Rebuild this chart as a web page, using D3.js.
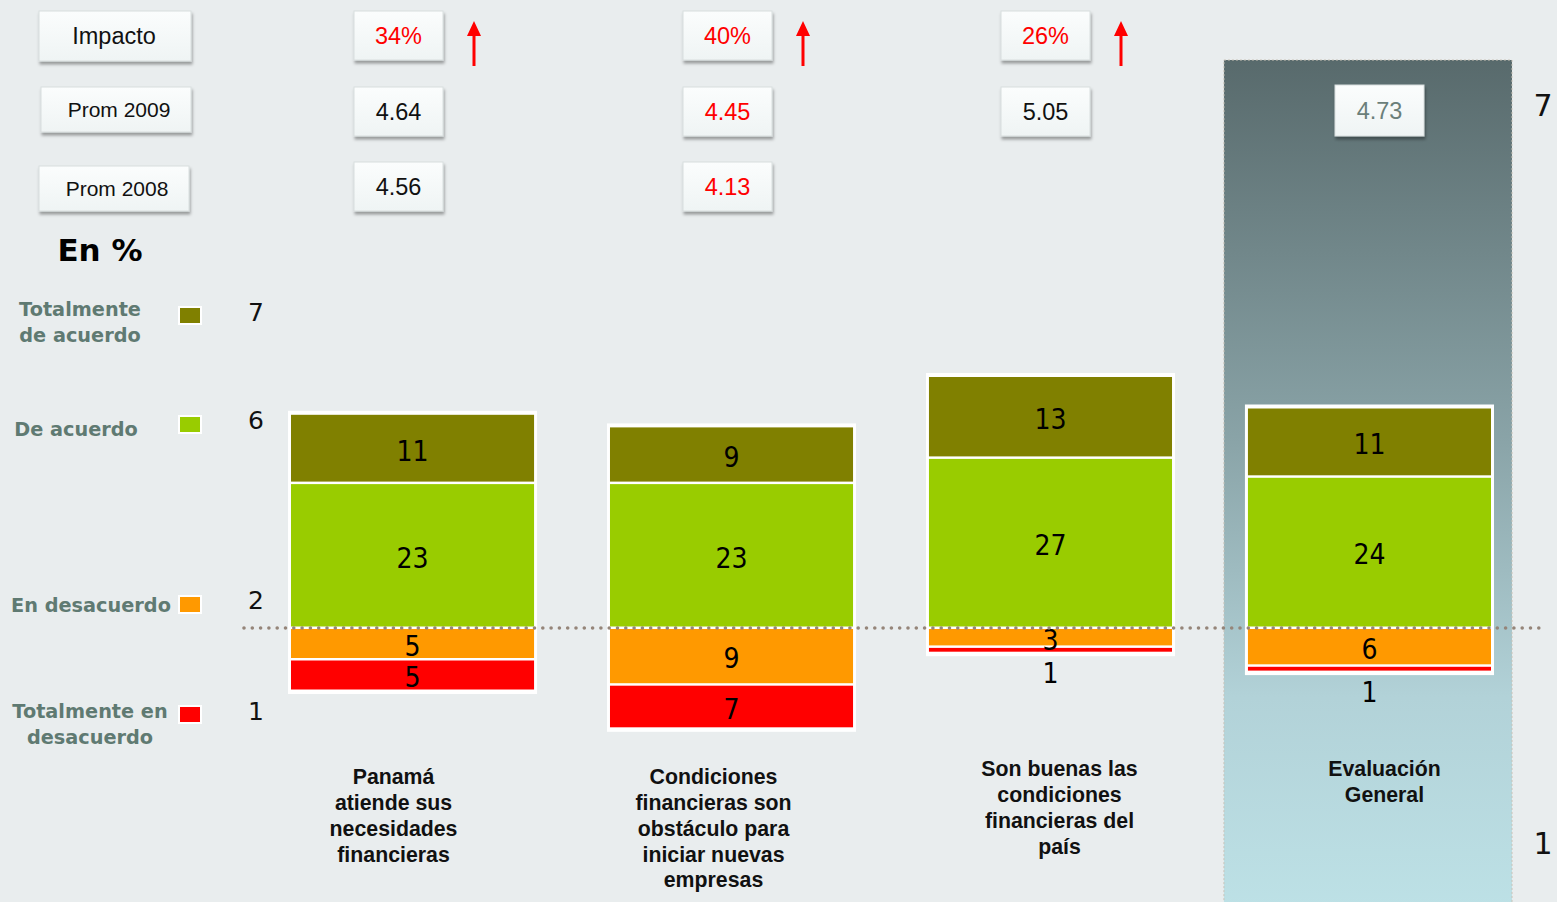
<!DOCTYPE html>
<html>
<head>
<meta charset="utf-8">
<script src="https://cdn.jsdelivr.net/npm/d3@7/dist/d3.min.js"></script>
<style>
  html, body { margin: 0; padding: 0; background: #e9edee; }
  svg { display: block; }
</style>
</head>
<body>
<svg id="chart" width="1557" height="902"></svg>
<script>
// ---------- DATA ----------
const categories = [
  "Panamá atiende sus necesidades financieras",
  "Condiciones financieras son obstáculo para iniciar nuevas empresas",
  "Son buenas las condiciones financieras del país",
  "Evaluación General"
];
const categoryLines = [
  ["Panamá", "atiende sus", "necesidades", "financieras"],
  ["Condiciones", "financieras son", "obstáculo para", "iniciar nuevas", "empresas"],
  ["Son buenas las", "condiciones", "financieras del", "país"],
  ["Evaluación", "General"]
];
const totalmenteDeAcuerdo = [11, 9, 13, 11];
const deAcuerdo = [23, 23, 27, 24];
const enDesacuerdo = [5, 9, 3, 6];
const totalmenteEnDesacuerdo = [5, 7, 1, 1];

const impacto = ["34%", "40%", "26%", null];
const prom2009 = ["4.64", "4.45", "5.05", "4.73"];
const prom2008 = ["4.56", "4.13", null, null];
const impactoColor = ["red", "red", "red", null];
const prom2009Color = ["black", "red", "black", "gray"];
const prom2008Color = ["black", "red", null, null];

const legendLabels = [
  ["Totalmente", "de acuerdo"],
  ["De acuerdo"],
  ["En desacuerdo"],
  ["Totalmente en", "desacuerdo"]
];
const legendScores = ["7", "6", "2", "1"];
const rowLabels = ["Impacto", "Prom 2009", "Prom 2008"];

// ---------- STYLE ----------
const COL = {
  tda: "#808000", da: "#99cc00", ed: "#ff9900", ted: "#ff0000",
  red: "#ff0000", black: "#111111", gray: "#6b7f7a", legend: "#5f7a72"
};
const textColor = {red: COL.red, black: COL.black, gray: COL.gray};

const svg = d3.select("#chart");
const defs = svg.append("defs");

const grad = defs.append("linearGradient").attr("id", "panelGrad")
  .attr("x1", 0).attr("y1", 0).attr("x2", 0).attr("y2", 1);
grad.append("stop").attr("offset", "0%").attr("stop-color", "#586a6c");
grad.append("stop").attr("offset", "45%").attr("stop-color", "#8aa4a8");
grad.append("stop").attr("offset", "75%").attr("stop-color", "#b2d2d8");
grad.append("stop").attr("offset", "100%").attr("stop-color", "#bde1e6");

const boxGrad = defs.append("linearGradient").attr("id", "boxGrad")
  .attr("x1", 0).attr("y1", 0).attr("x2", 0).attr("y2", 1);
boxGrad.append("stop").attr("offset", "0%").attr("stop-color", "#fbfdfd");
boxGrad.append("stop").attr("offset", "100%").attr("stop-color", "#eff4f4");

const shadow = defs.append("filter").attr("id", "shadow")
  .attr("x", "-20%").attr("y", "-20%").attr("width", "150%").attr("height", "160%");
shadow.append("feDropShadow").attr("dx", 1).attr("dy", 3).attr("stdDeviation", 1.8)
  .attr("flood-color", "#000").attr("flood-opacity", 0.35);

// ---------- SCALES ----------
const x = d3.scaleBand().domain(categories).range([291, 1491])
  .paddingInner(0.238).paddingOuter(0);
const y = d3.scaleLinear().domain([0, 40]).range([628, 376]);

// ---------- PANEL (Evaluación General) ----------
const lastX = x(categories[3]);
svg.append("rect")
  .attr("x", lastX - 24).attr("y", 60)
  .attr("width", x.bandwidth() + 45).attr("height", 850)
  .attr("fill", "url(#panelGrad)")
  .attr("stroke", "#c9c3b8").attr("stroke-width", 1).attr("stroke-dasharray", "2 2");

// ---------- HEADER BOXES ----------
const labelFont = "'Liberation Sans', Arial, sans-serif";
const rowBoxes = [
  {x: 39, y: 11, w: 152, h: 50, fs: 23.5},
  {x: 41, y: 87, w: 150, h: 45, fs: 21},
  {x: 39, y: 166, w: 150, h: 45, fs: 21}
];
rowLabels.forEach((t, i) => {
  const b = rowBoxes[i];
  svg.append("rect").attr("x", b.x).attr("y", b.y).attr("width", b.w).attr("height", b.h)
    .attr("fill", "url(#boxGrad)").attr("stroke", "#d8dede").attr("filter", "url(#shadow)");
  svg.append("text").attr("x", b.x + b.w / 2 + (i === 0 ? -1 : 3)).attr("y", b.y + b.h / 2)
    .attr("dy", "0.35em").attr("text-anchor", "middle")
    .attr("font-family", labelFont).attr("font-size", b.fs).attr("fill", "#111")
    .text(t);
});

const valBoxX = [354, 683, 1001, 1335];
const valBoxW = 89;
const rowsY = [{y: 11, h: 49}, {y: 87, h: 49}, {y: 162, h: 49}];
const rowsY4 = {y: 85, h: 51};
[impacto, prom2009, prom2008].forEach((arr, r) => {
  const colors = [impactoColor, prom2009Color, prom2008Color][r];
  arr.forEach((v, i) => {
    if (v === null) return;
    const bx = valBoxX[i];
    const by = (i === 3 && r === 1) ? rowsY4.y : rowsY[r].y;
    const bh = (i === 3 && r === 1) ? rowsY4.h : rowsY[r].h;
    svg.append("rect").attr("x", bx).attr("y", by).attr("width", valBoxW).attr("height", bh)
      .attr("fill", "url(#boxGrad)").attr("stroke", "#d8dede").attr("filter", "url(#shadow)");
    svg.append("text").attr("x", bx + valBoxW / 2).attr("y", by + bh / 2)
      .attr("dy", "0.35em").attr("text-anchor", "middle")
      .attr("font-family", labelFont).attr("font-size", 23.5)
      .attr("fill", textColor[colors[i]]).text(v);
    if (r === 0) {
      const ax = bx + valBoxW + 31;
      svg.append("line").attr("x1", ax).attr("x2", ax).attr("y1", 33).attr("y2", 66)
        .attr("stroke", COL.red).attr("stroke-width", 3);
      svg.append("path")
        .attr("d", `M${ax},21 L${ax + 7},36 L${ax - 7},36 Z`)
        .attr("fill", COL.red);
    }
  });
});

// ---------- "En %" ----------
svg.append("text").attr("x", 100).attr("y", 250).attr("dy", "0.35em")
  .attr("text-anchor", "middle").attr("font-family", "'DejaVu Sans', Verdana, sans-serif")
  .attr("font-weight", "bold").attr("font-size", 31).attr("fill", "#000").text("En %");

// ---------- LEGEND ----------
const legendFont = "'DejaVu Sans', Verdana, sans-serif";
const legendColors = [COL.tda, COL.da, COL.ed, COL.ted];
const legendY = [322, 429, 605, 724];
const legendCx = [80, 76, 91, 90];
const legendSqY = [315, 424, 604, 714];
const legendScoreY = [312, 420, 600, 711];
legendLabels.forEach((lines, i) => {
  const n = lines.length;
  lines.forEach((ln, j) => {
    svg.append("text").attr("x", legendCx[i])
      .attr("y", legendY[i] + (j - (n - 1) / 2) * 26).attr("dy", "0.35em")
      .attr("text-anchor", "middle").attr("font-family", legendFont)
      .attr("font-weight", "bold").attr("font-size", 19.3).attr("fill", COL.legend).text(ln);
  });
  svg.append("rect").attr("x", 179).attr("y", legendSqY[i] - 8).attr("width", 22).attr("height", 17)
    .attr("fill", legendColors[i]).attr("stroke", "#fff").attr("stroke-width", 2);
  svg.append("text").attr("x", 256).attr("y", legendScoreY[i]).attr("dy", "0.35em")
    .attr("text-anchor", "middle").attr("font-family", legendFont)
    .attr("font-size", 25).attr("fill", "#111").text(legendScores[i]);
});
// right scale numbers
svg.append("text").attr("x", 1543).attr("y", 105).attr("dy", "0.35em").attr("text-anchor", "middle")
  .attr("font-family", legendFont).attr("font-size", 30).attr("fill", "#111").text("7");
svg.append("text").attr("x", 1543).attr("y", 843).attr("dy", "0.35em").attr("text-anchor", "middle")
  .attr("font-family", legendFont).attr("font-size", 30).attr("fill", "#111").text("1");

// ---------- BARS ----------
const barFont = "'DejaVu Sans Condensed', 'DejaVu Sans', Verdana, sans-serif";
categories.forEach((c, i) => {
  const bx = x(c), bw = x.bandwidth();
  const segs = [
    {v0: 0, v1: deAcuerdo[i], color: COL.da, val: deAcuerdo[i]},
    {v0: deAcuerdo[i], v1: deAcuerdo[i] + totalmenteDeAcuerdo[i], color: COL.tda, val: totalmenteDeAcuerdo[i]},
    {v0: -enDesacuerdo[i], v1: 0, color: COL.ed, val: enDesacuerdo[i]},
    {v0: -enDesacuerdo[i] - totalmenteEnDesacuerdo[i], v1: -enDesacuerdo[i], color: COL.ted, val: totalmenteEnDesacuerdo[i]}
  ];
  const g = svg.append("g");
  const top = y(deAcuerdo[i] + totalmenteDeAcuerdo[i]);
  const bot = y(-enDesacuerdo[i] - totalmenteEnDesacuerdo[i]);
  g.append("rect").attr("x", bx - 3).attr("y", top - 3).attr("width", bw + 6)
    .attr("height", bot - top + 6).attr("fill", "#fff");
  segs.forEach(s => {
    const y0 = y(s.v1), y1 = y(s.v0);
    g.append("rect").attr("x", bx).attr("y", y0 + 1)
      .attr("width", bw).attr("height", Math.max(1.5, y1 - y0 - 2.5)).attr("fill", s.color);
  });
  segs.forEach(s => {
    const y0 = y(s.v1), y1 = y(s.v0);
    let ly = (y0 + y1) / 2 + 2;
    if (y1 - y0 < 12) ly = y1 + 20;
    g.append("text").attr("x", bx + bw / 2).attr("y", ly).attr("dy", "0.36em")
      .attr("text-anchor", "middle").attr("font-family", barFont)
      .attr("font-size", 28).attr("fill", "#000").text(s.val);
  });
});

// ---------- DOTTED BASELINE ----------
svg.append("line").attr("x1", 244).attr("x2", 1546).attr("y1", y(0)).attr("y2", y(0))
  .attr("stroke", "#958579").attr("stroke-width", 3.6)
  .attr("stroke-linecap", "round").attr("stroke-dasharray", "0 8.3");

// ---------- CATEGORY LABELS ----------
const catDx = [-19, -18, 9, 15];
const catTop = [777, 777, 769, 769];
categories.forEach((c, i) => {
  const cx = x(c) + x.bandwidth() / 2 + catDx[i];
  categoryLines[i].forEach((ln, j) => {
    svg.append("text").attr("x", cx).attr("y", catTop[i] + j * 25.7).attr("dy", "0.35em")
      .attr("text-anchor", "middle").attr("font-family", labelFont)
      .attr("font-weight", "bold").attr("font-size", 21.3).attr("fill", "#111").text(ln);
  });
});
</script>
</body>
</html>
